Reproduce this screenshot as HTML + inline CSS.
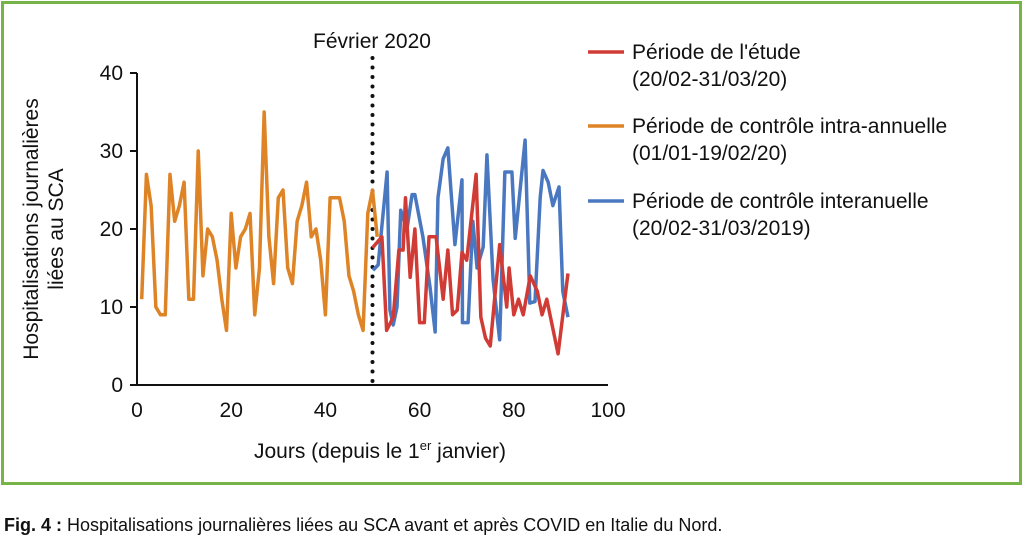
<!DOCTYPE html>
<html><head><meta charset="utf-8"><style>
body{margin:0;background:#fff;width:1024px;height:537px;overflow:hidden;font-family:"Liberation Sans",sans-serif}
</style></head><body>
<svg width="1024" height="537" font-family="Liberation Sans, sans-serif">
<rect x="2.5" y="2.5" width="1018" height="481" fill="none" stroke="#77b347" stroke-width="3"/>
<g id="plot"></g>
<text x="372" y="48" font-size="21" text-anchor="middle" fill="#111">Février 2020</text>
<text transform="translate(42,229) rotate(-90)" font-size="21" text-anchor="middle" fill="#111"><tspan x="0" dy="-4">Hospitalisations journalières</tspan><tspan x="0" dy="25">liées au SCA</tspan></text>
<text x="380" y="458" font-size="21" text-anchor="middle" fill="#111">Jours (depuis le 1<tspan dy="-8" font-size="13">er</tspan><tspan dy="8"> janvier)</tspan></text>
<g font-size="21" fill="#111">
<line x1="588" y1="52" x2="624" y2="52" stroke="#d13b35" stroke-width="3.5"/>
<text x="632" y="59">Période de l'étude</text>
<text x="632" y="86">(20/02-31/03/20)</text>
<line x1="588" y1="126" x2="624" y2="126" stroke="#de8426" stroke-width="3.5"/>
<text x="632" y="133">Période de contrôle intra-annuelle</text>
<text x="632" y="160">(01/01-19/02/20)</text>
<line x1="588" y1="201" x2="624" y2="201" stroke="#4a78c0" stroke-width="3.5"/>
<text x="632" y="208">Période de contrôle interanuelle</text>
<text x="632" y="235">(20/02-31/03/2019)</text>
</g>
<text x="4" y="531" font-size="18" fill="#111"><tspan font-weight="bold">Fig. 4 :</tspan> Hospitalisations journalières liées au SCA avant et après COVID en Italie du Nord.</text>
</svg>
<script>
const xTicks=[0,20,40,60,80,100];
const yTicks=[0,10,20,30,40];
const orangeDays=[1,2,3,4,5,6,7,8,9,10,11,12,13,14,15,16,17,18,19,20,21,22,23,24,25,26,27,28,29,30,31,32,33,34,35,36,37,38,39,40,41,42,43,44,45,46,47,48,49,50,51];
const orangeVals=[11,27,23,10,9,9,27,21,23,26,11,11,30,14,20,19,16,11,7,22,15,19,20,22,9,15,35,19,13,24,25,15,13,21,23,26,19,20,16,9,24,24,24,21,14,12,9,7,22,25,19];
const redDays=[50,52,53,54.4,55.6,56.5,57,58,59,60,61,62,63.5,65,66,67,68,69,70,72,73,74,75,77,78.5,79,80,81,82,83.5,85,86,87,89.4,91.5];
const redVals=[17.6,19,7,8.7,17.3,17.3,24,13.8,20,8,8,19,19,11,17.3,9,9.6,17,16,27,8.7,6,5,18,10,15,9,11,9,14,12,9,11,4,14.3];
const blueDays=[50.1,51.2,53.1,53.7,54.4,55.2,56,57.3,58.4,59,60.7,62.2,63.3,63.9,65,66,67.5,69,69.1,70.3,71.3,72.2,73.5,74.3,75.6,77,78.1,79.6,80.3,82.4,83.4,84.5,85.6,86.2,87.3,88.3,89.6,90.4,91.5];
const blueVals=[14.7,15.4,27.3,9.6,7.7,10,22.4,19.9,24.4,24.4,19,12.6,6.8,24,29,30.4,18,26.3,8,8,21,15,17.7,29.5,13.5,5.8,27.3,27.3,18.8,31.4,10.5,10.7,24,27.5,26,23,25.4,12,8.7];
const febDay=50;
const NS='http://www.w3.org/2000/svg';
const X0=137,X1=608,Y0=385,Y1=73;
const sx=d=>X0+(d-0)/100*(X1-X0);
const sy=v=>Y0-(v/40)*(Y0-Y1);
const g=document.getElementById('plot');
function mk(t,a){const e=document.createElementNS(NS,t);for(const k in a)e.setAttribute(k,a[k]);g.appendChild(e);return e;}
yTicks.forEach(v=>{
 const t=mk('line',{x1:X0-7,x2:X0,y1:sy(v),y2:sy(v),stroke:'#111','stroke-width':2});
 
 
 const l=mk('text',{x:X0-14,y:sy(v)+7,'font-size':21,'text-anchor':'end',fill:'#111'});l.textContent=v;
 
 
});
xTicks.forEach(v=>{
 const l=mk('text',{x:sx(v),y:417,'font-size':21,'text-anchor':'middle',fill:'#111'});l.textContent=v;
 
 
});
const ya=mk('line',{x1:X0,x2:X0,y1:Y1,y2:Y0+1,stroke:'#111','stroke-width':2});


const xa=mk('line',{x1:X0-1,x2:X1,y1:Y0,y2:Y0,stroke:'#111','stroke-width':2});


const fl=mk('line',{x1:sx(febDay),x2:sx(febDay),y1:58,y2:Y0,stroke:'#111','stroke-width':4,'stroke-dasharray':'0 9.5','stroke-linecap':'round'});


function series(days,vals,color,name){
 const p=mk('polyline',{points:days.map((d,i)=>sx(d)+','+sy(vals[i])).join(' '),fill:'none',stroke:color,'stroke-width':3.5,'stroke-linejoin':'round'});
 
 
}
series(orangeDays,orangeVals,'#de8426','line-intra-annual');
series(blueDays,blueVals,'#4a78c0','line-interannual');
series(redDays,redVals,'#d13b35','line-study');
</script>
</body></html>
